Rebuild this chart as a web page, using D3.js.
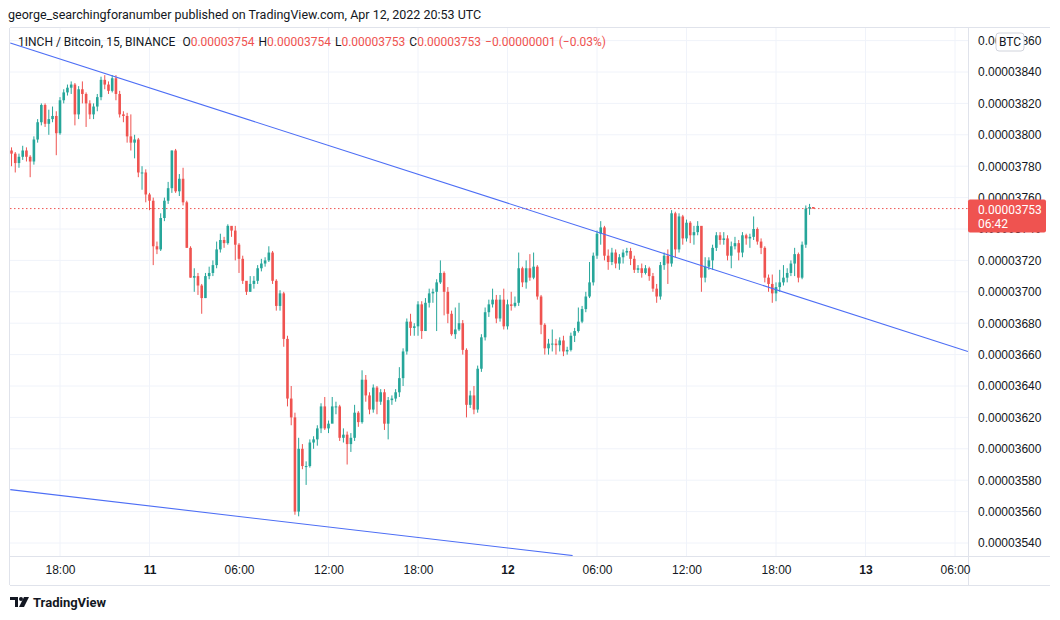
<!DOCTYPE html>
<html>
<head>
<meta charset="utf-8">
<script src="https://cdn.jsdelivr.net/npm/d3@7"></script>
<style>
  body { margin: 0; background: #fff; font-family: Roboto, "Liberation Sans", sans-serif; }
  svg text { fill: #131722; }
</style>
</head>
<body>
<script>
// closes, 15 min bars, price in 1e-8 BTC; open = previous close
const closes = [
  3788,3782,3786,3790,3786,3783,3797,3808,3819,3807,3810,3812,3801,3822,3827,3830,3832,3813,3829,3826,3820,3813,3818,3824,3835,3832,3828,3836,3826,3813,3812,3799,3795,3797,3776,3776,3762,
  3758,3729,3727,3747,3758,3766,3790,3764,3772,3757,3728,3709,3710,3704,3696,3710,3712,3717,3727,3733,3731,3742,3739,3730,3721,3707,3700,3705,3707,3715,3718,3720,3725,3707,3691,3699,3670,
  3632,3620,3560,3600,3589,3589,3604,3606,3613,3627,3613,3616,3627,3627,3607,3609,3603,3607,3623,3617,3644,3634,3625,3639,3630,3636,3616,3631,3632,3636,3645,3662,3681,3677,
  3678,3692,3675,3693,3699,3700,3706,3712,3700,3686,3673,3676,3680,3663,3628,3634,3625,3651,3671,3687,3692,3695,3683,3695,3678,3692,3691,3693,3715,3706,3715,3709,3716,3697,3679,3664,3667,
  3667,3666,3669,3662,3663,3672,3675,3681,3689,3697,3706,3723,3737,3741,3723,3719,3725,3718,3722,3725,3726,3721,3714,3715,3712,3715,3710,3702,3697,3717,3723,3718,3750,3727,
  3748,3734,3744,3736,3738,3742,3709,3716,3720,3728,3736,3733,3734,3723,3729,3731,3725,3736,3734,3735,3740,3732,3728,3709,3705,3699,3703,3706,3709,3712,3718,3724,3709,3730,3753,3754,3753
];
const highs = [
  3792,3789,3788,3793,3792,3787,3799,3810,3820,3820,3816,3818,3815,3824,3829,3832,3834,3833,3831,3834,3827,3822,3820,3826,3837,3838,3834,3838,3838,3828,3815,3814,3813,3800,3798,3780,3778,
  3763,3760,3732,3750,3760,3770,3790,3791,3775,3779,3758,3729,3715,3712,3705,3712,3716,3720,3732,3737,3735,3743,3741,3742,3731,3723,3706,3710,3710,3717,3721,3722,3729,3726,3708,3701,3700,
  3672,3640,3623,3607,3603,3592,3606,3608,3615,3629,3633,3618,3633,3630,3628,3613,3611,3610,3628,3624,3650,3647,3636,3641,3640,3638,3638,3633,3634,3638,3652,3664,3683,3686,
  3680,3694,3694,3696,3702,3702,3708,3720,3713,3703,3688,3690,3693,3682,3664,3637,3640,3653,3673,3690,3695,3702,3698,3698,3702,3695,3700,3697,3725,3716,3720,3724,3725,3717,3698,3680,3670,
  3676,3670,3671,3672,3665,3674,3677,3690,3691,3700,3719,3725,3739,3745,3742,3727,3728,3727,3724,3727,3728,3728,3723,3717,3718,3717,3716,3712,3705,3719,3725,3727,3752,3751,
  3750,3749,3746,3745,3742,3745,3740,3722,3722,3730,3738,3738,3738,3736,3732,3735,3733,3738,3737,3737,3748,3741,3734,3729,3711,3711,3706,3714,3717,3715,3720,3728,3725,3732,3755,3756,3754
];
const lows = [
  3780,3776,3779,3784,3783,3773,3781,3795,3806,3805,3800,3808,3787,3800,3820,3825,3826,3806,3810,3820,3805,3810,3810,3815,3822,3829,3826,3827,3822,3811,3808,3795,3790,3785,3773,3765,3757,
  3752,3717,3724,3726,3745,3756,3763,3763,3761,3755,3728,3709,3700,3698,3686,3696,3708,3710,3715,3725,3728,3730,3735,3720,3712,3705,3698,3700,3702,3705,3713,3716,3719,3705,3688,3688,3665,
  3627,3615,3558,3557,3587,3577,3588,3600,3602,3610,3612,3610,3624,3622,3605,3604,3590,3598,3605,3614,3616,3630,3622,3623,3622,3628,3612,3606,3628,3630,3633,3640,3660,3672,
  3672,3672,3670,3688,3690,3693,3675,3705,3685,3680,3672,3670,3675,3660,3620,3626,3622,3623,3649,3669,3684,3690,3680,3681,3676,3676,3688,3690,3691,3703,3702,3707,3708,3695,3673,3660,3660,
  3662,3660,3662,3659,3660,3662,3668,3674,3680,3687,3696,3704,3721,3730,3720,3714,3717,3715,3714,3718,3723,3717,3712,3712,3709,3711,3707,3700,3693,3695,3714,3705,3716,3722,
  3725,3730,3732,3731,3730,3736,3700,3706,3714,3714,3726,3730,3730,3720,3715,3727,3720,3722,3730,3728,3733,3730,3724,3706,3700,3693,3694,3700,3704,3706,3710,3710,3706,3708,3728,3749,3753
];
const firstOpen = 3790;
const firstBar = "2022-04-10T14:45:00Z";
const priceTicks = [3540,3560,3580,3600,3620,3640,3660,3680,3700,3720,3740,3760,3780,3800,3820,3840,3860];
const timeTicks = ["2022-04-10T18:00:00Z","2022-04-11T00:00:00Z","2022-04-11T06:00:00Z","2022-04-11T12:00:00Z","2022-04-11T18:00:00Z",
  "2022-04-12T00:00:00Z","2022-04-12T06:00:00Z","2022-04-12T12:00:00Z","2022-04-12T18:00:00Z","2022-04-13T00:00:00Z","2022-04-13T06:00:00Z"];
const trendUpper = [["2022-04-10T14:40:00Z", 3858.5], ["2022-04-13T06:52:00Z", 3662]];
const trendLower = [["2022-04-10T14:40:00Z", 3574], ["2022-04-12T04:22:00Z", 3532]];
const lastPrice = 3753;

const W = 1060, H = 620;
const pane = {left: 10, right: 968, top: 28, bottom: 556};
const green = '#26a69a', red = '#ef5350';

const svg = d3.select(document.body).append('svg')
  .attr('width', W).attr('height', H);

const x = d3.scaleUtc()
  .domain([new Date("2022-04-10T18:00:00Z"), new Date("2022-04-12T18:00:00Z")])
  .range([60, 776]);
const y = d3.scaleLinear().domain([3540, 3840]).range([543, 72]);

const start = new Date(firstBar).getTime();
const bars = closes.map((c, i) => ({
  t: new Date(start + i * 15 * 60000),
  o: i === 0 ? firstOpen : closes[i - 1],
  h: highs[i], l: lows[i], c: c
}));

svg.append('defs').append('clipPath').attr('id', 'pane')
  .append('rect').attr('x', pane.left).attr('y', pane.top)
  .attr('width', pane.right - pane.left).attr('height', pane.bottom - pane.top);

// grid
const grid = svg.append('g').attr('clip-path', 'url(#pane)');
grid.selectAll('.hg').data(priceTicks).enter().append('line')
  .attr('x1', pane.left).attr('x2', pane.right)
  .attr('y1', d => y(d)).attr('y2', d => y(d))
  .attr('stroke', '#f0f3fa');
grid.selectAll('.vg').data(timeTicks).enter().append('line')
  .attr('x1', d => x(new Date(d))).attr('x2', d => x(new Date(d)))
  .attr('y1', pane.top).attr('y2', pane.bottom)
  .attr('stroke', '#f0f3fa');

// pane borders
svg.append('line').attr('x1', pane.right + 0.5).attr('x2', pane.right + 0.5)
  .attr('y1', pane.top).attr('y2', 585).attr('stroke', '#e0e3eb');
svg.append('line').attr('x1', pane.left).attr('x2', 1050)
  .attr('y1', pane.bottom + 0.5).attr('y2', pane.bottom + 0.5).attr('stroke', '#e0e3eb');
svg.append('line').attr('x1', pane.left - 0.5).attr('x2', pane.left - 0.5)
  .attr('y1', pane.top).attr('y2', 585).attr('stroke', '#e0e3eb');
svg.append('line').attr('x1', pane.left).attr('x2', 1050)
  .attr('y1', pane.top - 0.5).attr('y2', pane.top - 0.5).attr('stroke', '#e0e3eb');
svg.append('line').attr('x1', pane.left).attr('x2', 1050)
  .attr('y1', 585.5).attr('y2', 585.5).attr('stroke', '#e0e3eb');

const plot = svg.append('g').attr('clip-path', 'url(#pane)');

// last price dotted line
plot.append('line').attr('x1', pane.left).attr('x2', pane.right)
  .attr('y1', y(lastPrice)).attr('y2', y(lastPrice))
  .attr('stroke', red).attr('stroke-dasharray', '1.5,2.5');

// candles
const bw = 2.6;
const cg = plot.selectAll('.bar').data(bars).enter().append('g')
  .attr('fill', d => d.c >= d.o ? green : red)
  .attr('stroke', d => d.c >= d.o ? green : red);
cg.append('line')
  .attr('x1', d => x(d.t)).attr('x2', d => x(d.t))
  .attr('y1', d => y(d.h)).attr('y2', d => y(d.l))
  .attr('stroke-width', 1);
cg.append('rect')
  .attr('x', d => x(d.t) - bw / 2)
  .attr('y', d => y(Math.max(d.o, d.c)))
  .attr('width', bw)
  .attr('height', d => Math.max(1, Math.abs(y(d.o) - y(d.c))))
  .attr('stroke', 'none');

// trend lines
const tl = d3.line().x(d => x(new Date(d[0]))).y(d => y(d[1]));
[trendUpper, trendLower].forEach(t => {
  plot.append('path').attr('d', tl(t))
    .attr('fill', 'none').attr('stroke', '#4d6ef5').attr('stroke-width', 1.1);
});

// price axis
const yAxis = svg.append('g')
  .attr('transform', `translate(${pane.right},0)`)
  .call(d3.axisRight(y).tickValues(priceTicks).tickSize(0).tickPadding(10)
    .tickFormat(d => (d * 1e-8).toFixed(8)));
yAxis.select('.domain').remove();
yAxis.selectAll('text').style('font-size', '12px').attr('fill', '#131722');

// time axis
const xAxis = svg.append('g')
  .attr('transform', `translate(0,${pane.bottom})`)
  .call(d3.axisBottom(x).tickValues(timeTicks.map(d => new Date(d))).tickSize(0).tickPadding(9)
    .tickFormat(d => d.getUTCHours() === 0 ? d3.utcFormat('%-d')(d) : d3.utcFormat('%H:%M')(d)));
xAxis.select('.domain').remove();
xAxis.selectAll('text').style('font-size', '12px').attr('fill', '#131722')
  .style('font-weight', d => d.getUTCHours() === 0 ? 'bold' : 'normal');

// BTC badge
svg.append('rect').attr('x', 996).attr('y', 33).attr('width', 28).attr('height', 18)
  .attr('rx', 3).attr('fill', '#fff').attr('stroke', '#d1d4dc');
svg.append('text').attr('x', 1010).attr('y', 46).attr('text-anchor', 'middle')
  .style('font-size', '12px').text('BTC');

// last price label
svg.append('rect').attr('x', pane.right).attr('y', y(lastPrice) - 9).attr('width', 78).attr('height', 33)
  .attr('rx', 2).attr('fill', red);
svg.append('text').attr('x', 978).attr('y', y(lastPrice) + 5).style('fill', '#fff')
  .style('font-size', '12px').text((lastPrice * 1e-8).toFixed(8));
svg.append('text').attr('x', 978).attr('y', y(lastPrice) + 19).style('fill', '#fff')
  .style('font-size', '12px').text('06:42');

// header
svg.append('text').attr('x', 8).attr('y', 19).style('font-size', '12.5px')
  .text('george_searchingforanumber published on TradingView.com, Apr 12, 2022 20:53 UTC');
const legend = svg.append('text').attr('x', 18).attr('y', 46).style('font-size', '12px');
legend.append('tspan').text('1INCH / Bitcoin, 15, BINANCE ');
[['O', '0.00003754'], ['H', '0.00003754'], ['L', '0.00003753'], ['C', '0.00003753']].forEach(p => {
  legend.append('tspan').attr('dx', 4).text(p[0]);
  legend.append('tspan').style('fill', red).text(p[1]);
});
legend.append('tspan').attr('dx', 4).style('fill', red).text('\u22120.00000001 (\u22120.03%)');

// footer logo
const logo = svg.append('g').attr('transform', 'translate(10,597)');
logo.append('path').attr('d', 'M0,0 H8 V10 H5 V3 H0 Z').attr('fill', '#131722');
logo.append('circle').attr('cx', 11).attr('cy', 2).attr('r', 2).attr('fill', '#131722');
logo.append('path').attr('d', 'M14,0 H19 L14,10 H9 Z').attr('fill', '#131722');
svg.append('text').attr('x', 33).attr('y', 607).style('font-size', '13px').style('font-weight', 'bold')
  .text('TradingView');
</script>
</body>
</html>
